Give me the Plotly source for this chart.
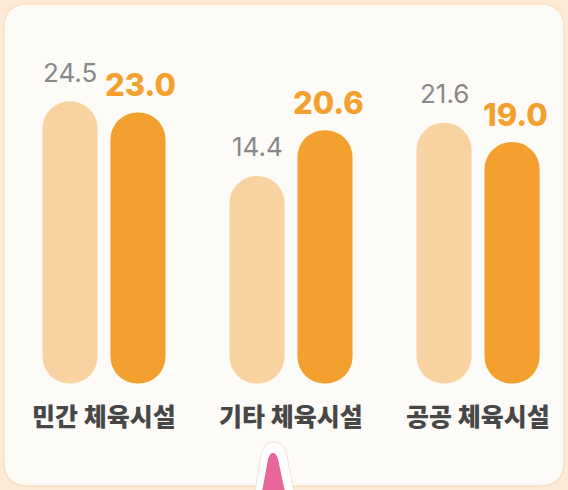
import plotly.graph_objects as go

categories = ["민간 체육시설", "기타 체육시설", "공공 체육시설"]
series_prev = [24.5, 14.4, 21.6]
series_curr = [23.0, 20.6, 19.0]
prev_labels = ["24.5", "14.4", "21.6"]
curr_labels = ["23.0", "20.6", "19.0"]

W, H = 568, 490
BASE = -13.7

LIGHT = "#F8D3A1"
ORANGE = "#F4A02F"
GREY_TXT = "#888888"
CAT_TXT = "#474747"

fig = go.Figure()
fig.add_trace(go.Bar(
    x=categories, y=[v - BASE for v in series_prev], base=BASE,
    marker=dict(color=LIGHT, cornerradius="50%", line_width=0),
    hoverinfo="skip", name="prev"))
fig.add_trace(go.Bar(
    x=categories, y=[v - BASE for v in series_curr], base=BASE,
    marker=dict(color=ORANGE, cornerradius="50%", line_width=0),
    hoverinfo="skip", name="curr"))


def px(x, y):
    return f"{x / W:.5f},{1 - y / H:.5f}"


def rounded_rect(x0, y0, x1, y1, r):
    return (f"M {px(x0 + r, y0)} L {px(x1 - r, y0)} Q {px(x1, y0)} {px(x1, y0 + r)} "
            f"L {px(x1, y1 - r)} Q {px(x1, y1)} {px(x1 - r, y1)} "
            f"L {px(x0 + r, y1)} Q {px(x0, y1)} {px(x0, y1 - r)} "
            f"L {px(x0, y0 + r)} Q {px(x0, y0)} {px(x0 + r, y0)} Z")


shapes = [
    dict(type="path", xref="paper", yref="paper", layer="below",
         path=rounded_rect(4, 4, 564, 486, 24),
         fillcolor="#FDFBF7", line=dict(color="#FADFC0", width=1.5)),
    # white pointer outline
    dict(type="path", xref="paper", yref="paper", layer="above",
         path=(f"M {px(255, 492)} L {px(261, 456)} Q {px(264, 442)} {px(274, 442)} "
               f"Q {px(284, 442)} {px(287, 456)} L {px(294, 492)} Z"),
         fillcolor="#FFFFFF", line=dict(color="#EFE4DA", width=1)),
    # pink pointer
    dict(type="path", xref="paper", yref="paper", layer="above",
         path=(f"M {px(262, 492)} L {px(268, 459)} Q {px(270, 453)} {px(273, 453)} "
               f"Q {px(276, 453)} {px(278, 459)} L {px(285, 492)} Z"),
         fillcolor="#E8669A", line=dict(width=0)),
]

annotations = []
for c, v, t in zip(categories, series_prev, prev_labels):
    annotations.append(dict(x=c, y=v, xref="x", yref="y", text=t, showarrow=False,
                            xshift=-34, yshift=29, yanchor="middle",
                            font=dict(family="Inter, Lato, sans-serif", size=26, color=GREY_TXT)))
for c, v, t in zip(categories, series_curr, curr_labels):
    annotations.append(dict(x=c, y=v, xref="x", yref="y", text=t, showarrow=False,
                            xshift=37, yshift=28, yanchor="middle",
                            font=dict(family="Inter, Lato, sans-serif", size=31, color=ORANGE,
                                      weight=800)))
for c in categories:
    annotations.append(dict(x=c, y=BASE, xref="x", yref="y", text=c, showarrow=False,
                            yanchor="top", yshift=-11,
                            font=dict(family="Noto Sans CJK KR", size=25, color=CAT_TXT,
                                      weight=900)))

fig.update_layout(
    width=W, height=H,
    margin=dict(l=0, r=0, t=0, b=0),
    paper_bgcolor="#FCEAD6",
    plot_bgcolor="rgba(0,0,0,0)",
    barmode="group", bargap=0.273, bargroupgap=0.19,
    showlegend=False,
    xaxis=dict(type="category", range=[-0.556, 2.481], visible=False, fixedrange=True),
    yaxis=dict(range=[-28.1, 38.22], visible=False, fixedrange=True),
    shapes=shapes,
    annotations=annotations,
)

fig.write_html("out.html", config={"displayModeBar": False},
               post_script="document.body.style.margin='0';document.body.style.overflow='hidden';")
